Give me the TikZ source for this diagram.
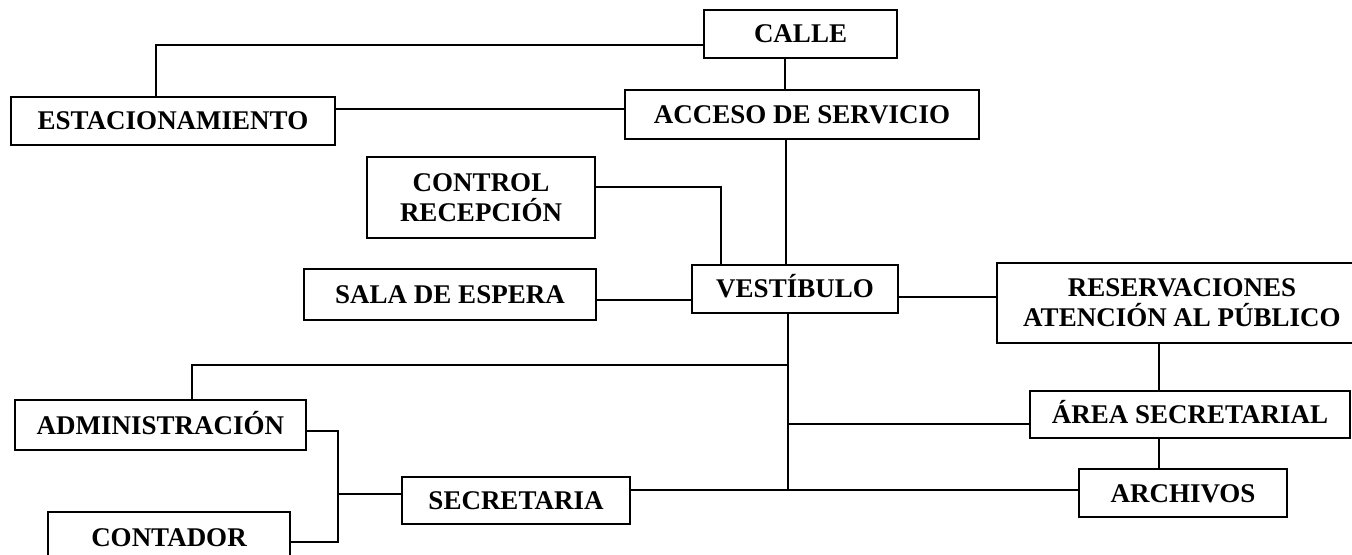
\documentclass[tikz,border=0pt]{standalone}
\usepackage{fontspec}
\setmainfont{Liberation Serif}
\begin{document}
\begin{tikzpicture}[x=0.5pt,y=-0.5pt,
  line width=1.1pt,
  every node/.style={font=\fontsize{13.5}{15}\selectfont\bfseries},
  boxa/.style={draw,rectangle,inner sep=0pt,text height=9pt,text depth=0pt},
  boxb/.style={draw,rectangle,inner sep=0pt,align=center}]
\fill[white] (0,0) rectangle (1352,555);
\useasboundingbox (0,0) rectangle (1352,555);

\node[boxa,minimum width=96.5pt,minimum height=24pt] (calle) at (800.5,34) {CALLE};
\node[boxa,minimum width=162pt,minimum height=24pt] (estac) at (173,121) {ESTACIONAMIENTO};
\node[boxa,minimum width=177pt,minimum height=24.5pt] (acceso) at (802,114.5) {ACCESO DE SERVICIO};
\node[boxb,minimum width=114pt,minimum height=40.5pt] (control) at (481,197.5) {CONTROL\\RECEPCIÓN};
\node[boxa,minimum width=146pt,minimum height=25.5pt] (sala) at (450,294.5) {SALA DE ESPERA};
\node[boxa,minimum width=103pt,minimum height=24pt] (vest) at (795,289) {VESTÍBULO};
\node[boxb,minimum width=185pt,minimum height=40pt] (reserv) at (1182,303) {RESERVACIONES\\ATENCIÓN AL PÚBLICO};
\node[boxa,minimum width=160pt,minimum height=23.5pt] (area) at (1190,414.5) {ÁREA SECRETARIAL};
\node[boxa,minimum width=104pt,minimum height=24pt] (archivos) at (1183,493) {ARCHIVOS};
\node[boxa,minimum width=145.5pt,minimum height=25pt] (admin) at (160.5,425) {ADMINISTRACIÓN};
\node[boxa,minimum width=114pt,minimum height=23.5pt] (secre) at (516,500.5) {SECRETARIA};
\node[boxa,minimum width=121pt,minimum height=25pt] (contador) at (169,537) {CONTADOR};

\coordinate (j1) at (156,45);
\coordinate (v1) at (785,0);
\coordinate (h1) at (0,109);
\coordinate (v2) at (786,0);
\coordinate (j2) at (721,187);
\coordinate (h2) at (0,300);
\coordinate (h3) at (0,297);
\coordinate (ttop) at (788,313);
\coordinate (tbot) at (788,489);
\coordinate (tadm) at (788,365);
\coordinate (j3) at (192,365);
\coordinate (tarea) at (788,424);
\coordinate (v3) at (1159,0);
\coordinate (h4) at (0,490);
\coordinate (j4) at (338,431);
\coordinate (j5) at (338,542);
\coordinate (j6) at (338,494);

\draw (calle.west |- j1) -| (estac.north -| j1);
\draw (calle.south -| v1) -- (acceso.north -| v1);
\draw (estac.east |- h1) -- (acceso.west |- h1);
\draw (acceso.south -| v2) -- (vest.north -| v2);
\draw (control.east |- j2) -| (vest.north -| j2);
\draw (sala.east |- h2) -- (vest.west |- h2);
\draw (vest.east |- h3) -- (reserv.west |- h3);
\draw (vest.south -| ttop) -- (tbot);
\draw (tadm) -- (j3) -- (admin.north -| j3);
\draw (area.west |- tarea) -- (tarea);
\draw (reserv.south -| v3) -- (area.north -| v3);
\draw (area.south -| v3) -- (archivos.north -| v3);
\draw (secre.east |- h4) -- (archivos.west |- h4);
\draw (admin.east |- j4) -- (j4) -- (j5) -- (contador.east |- j5);
\draw (j6) -- (secre.west |- j6);
\end{tikzpicture}
\end{document}
